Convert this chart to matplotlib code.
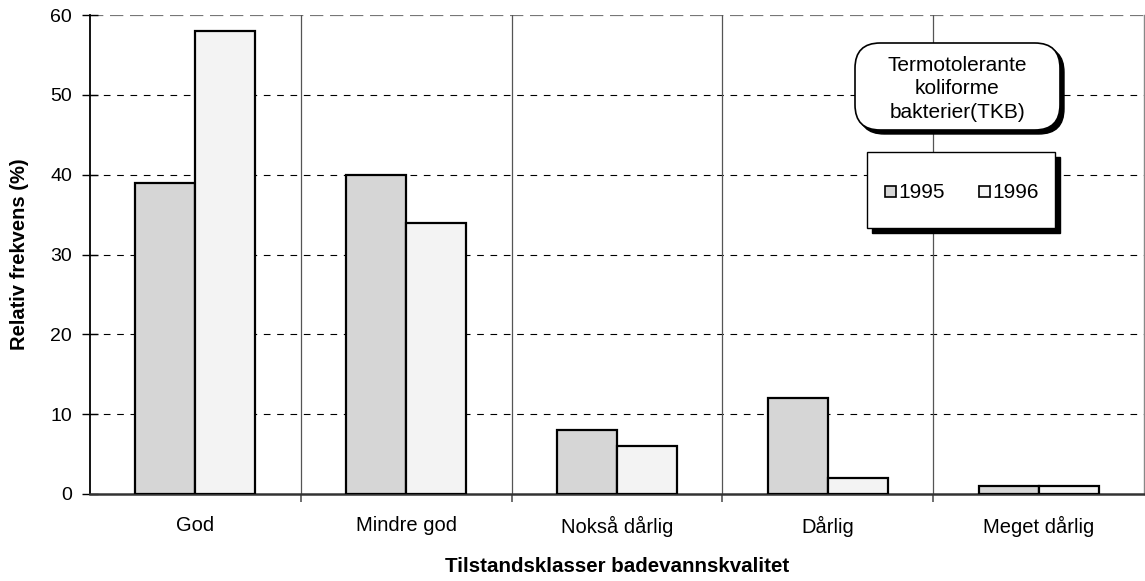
import matplotlib
matplotlib.use("Agg")
import matplotlib.pyplot as plt
import numpy as np
from matplotlib.patches import FancyBboxPatch, Rectangle

plt.rcParams['font.family'] = ['Liberation Sans', 'DejaVu Sans']

categories = ["God", "Mindre god", "Nokså dårlig", "Dårlig", "Meget dårlig"]
years = ["1995", "1996"]
values_1995 = [39, 40, 8, 12, 1]
values_1996 = [58, 34, 6, 2, 1]
yticks = [0, 10, 20, 30, 40, 50, 60]
legend_title = "Termotolerante\nkoliforme\nbakterier(TKB)"

W, H = 1145, 581
fig = plt.figure(figsize=(W / 100, H / 100), dpi=100)
ax = fig.add_axes([90 / W, (H - 494) / H, 1054 / W, 479 / H])

x = np.arange(len(categories))
bw = 0.285
c1995 = "#d6d6d6"
c1996 = "#f3f3f3"
ax.bar(x - bw / 2, values_1995, bw, color=c1995, edgecolor="black", linewidth=1.6, zorder=3)
ax.bar(x + bw / 2, values_1996, bw, color=c1996, edgecolor="black", linewidth=1.6, zorder=3)

ax.set_xlim(-0.5, len(categories) - 0.5)
ax.set_ylim(0, 60)
ax.set_yticks(yticks)
ax.set_yticklabels([str(v) for v in yticks], fontsize=14)
ax.tick_params(axis="y", direction="inout", length=12, width=1, pad=7)

ax.set_xticks(x)
ax.set_xticklabels(categories, fontsize=14.5)
ax.tick_params(axis="x", length=0, pad=16)
seps = np.arange(len(categories) - 1) + 0.5
ax.set_xticks(seps, minor=True)
ax.tick_params(axis="x", which="minor", direction="out", length=6, width=1.2, color="#555555")

for y in yticks[1:-1]:
    ax.axhline(y, color="black", linestyle=(0, (6, 6)), linewidth=0.8, zorder=1)
ax.axhline(60, color="#777777", linestyle=(0, (6, 3)), linewidth=1.6, zorder=1)
for s in seps:
    ax.axvline(s, color="#555555", linewidth=0.9, zorder=1)

ax.spines["top"].set_visible(False)
ax.spines["right"].set_color("#888888")
ax.spines["right"].set_linewidth(1)
ax.spines["left"].set_linewidth(1.3)
ax.spines["bottom"].set_color("#333333")
ax.spines["bottom"].set_linewidth(1.8)

ax.set_ylabel("Relativ frekvens (%)", fontsize=14.5, fontweight="bold")
ax.yaxis.set_label_coords(20 / W, 1 - 254 / H, transform=fig.transFigure)
ax.yaxis.label.set_va("center")
ax.set_xlabel("Tilstandsklasser badevannskvalitet", fontsize=14.8, fontweight="bold")
ax.xaxis.set_label_coords(617 / W, 1 - 567 / H, transform=fig.transFigure)
ax.xaxis.label.set_va("center")


def fx(px):
    return px / W


def fy(py):
    return 1 - py / H

# legend title box (rounded, with shadow)
tb_x0, tb_y0, tb_x1, tb_y1 = 855, 43, 1060, 130
shadow = FancyBboxPatch((fx(tb_x0 + 4), fy(tb_y1 + 4)), fx(tb_x1 - tb_x0), (tb_y1 - tb_y0) / H,
                        boxstyle="round,pad=0,rounding_size=0.022", transform=fig.transFigure,
                        facecolor="black", edgecolor="black", zorder=5, mutation_aspect=W / H)
fig.patches.append(shadow)
tbox = FancyBboxPatch((fx(tb_x0), fy(tb_y1)), fx(tb_x1 - tb_x0), (tb_y1 - tb_y0) / H,
                      boxstyle="round,pad=0,rounding_size=0.022", transform=fig.transFigure,
                      facecolor="white", edgecolor="black", linewidth=1.2, zorder=6,
                      mutation_aspect=W / H)
fig.patches.append(tbox)
fig.text(fx((tb_x0 + tb_x1) / 2), fy(89), legend_title, ha="center", va="center",
         fontsize=15, linespacing=1.3, zorder=7)

# legend box with shadow
lb_x0, lb_y0, lb_x1, lb_y1 = 867, 152, 1055, 228
fig.patches.append(Rectangle((fx(lb_x0 + 5), fy(lb_y1 + 5)), fx(lb_x1 - lb_x0), (lb_y1 - lb_y0) / H,
                             transform=fig.transFigure, facecolor="black", edgecolor="black", zorder=5))
fig.patches.append(Rectangle((fx(lb_x0), fy(lb_y1)), fx(lb_x1 - lb_x0), (lb_y1 - lb_y0) / H,
                             transform=fig.transFigure, facecolor="white", edgecolor="black",
                             linewidth=1, zorder=6))
for (sx, tx), lab, col in zip([(885, 898), (979, 992)], years, [c1995, c1996]):
    fig.patches.append(Rectangle((fx(sx), fy(197)), fx(11), 11 / H, transform=fig.transFigure,
                                 facecolor=col, edgecolor="black", linewidth=1.2, zorder=7))
    fig.text(fx(tx), fy(193), lab, ha="left", va="center", fontsize=15, zorder=7)

fig.savefig("out.png", dpi=100)
